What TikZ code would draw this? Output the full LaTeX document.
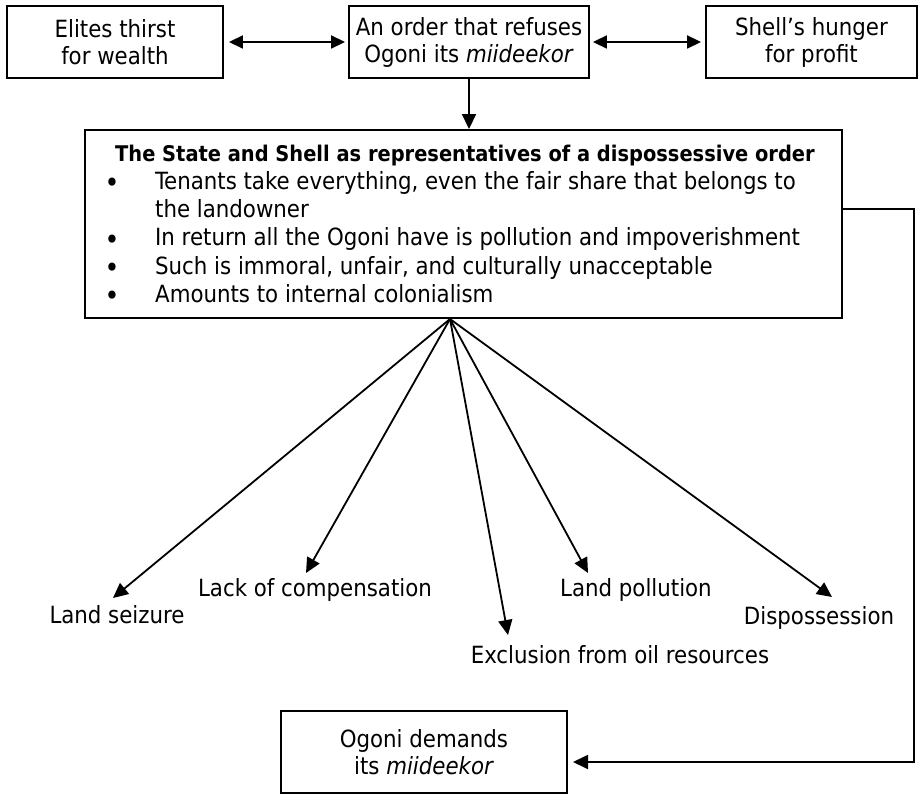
\documentclass[tikz,border=0pt]{standalone}
\usepackage{fontspec}
\setmainfont{DejaVu Sans Condensed}
\usetikzlibrary{arrows.meta}
\begin{document}
\begin{tikzpicture}[x=1pt,y=-1pt,
  fnt/.style={font=\fontsize{23.7}{27}\selectfont},
  box/.style={draw,line width=1.9pt,inner sep=0pt,align=center,fnt},
  txt/.style={inner sep=0pt,anchor=base west,fnt},
  bul/.style={inner sep=0pt,anchor=base,font=\fontsize{28}{28}\selectfont},
  lbl/.style={inner sep=0pt,anchor=base,fnt},
  arr/.style={line width=1.8pt,-{Triangle[length=15pt,width=14pt]}},
  darr/.style={line width=1.8pt,{Triangle[length=14pt,width=13pt]}-{Triangle[length=14pt,width=13pt]}}]
\useasboundingbox (0,0) rectangle (920,794);
\fill[white] (0,0) rectangle (920,794);
% top boxes
\node[box,minimum width=216pt,minimum height=72pt] (elites) at (115,42) {Elites thirst\\for wealth};
\node[box,minimum width=240pt,minimum height=72pt] (order) at (469,42) {An order that refuses\\Ogoni its \textit{miideekor}};
\node[box,minimum width=211pt,minimum height=72pt] (shell) at (811.5,42) {Shell’s hunger\\for profit};
\draw[darr,shorten <=5pt,shorten >=3pt] (elites.east) -- (order.west);
\draw[darr,shorten <=3pt,shorten >=4pt] (order.east) -- (shell.west);
% main box
\node[draw,line width=1.9pt,inner sep=0pt,minimum width=757pt,minimum height=188pt] (main) at (463.5,224) {};
\draw[arr] (order.south) -- (order.south |- main.north);
\node[txt,font=\fontsize{21.6}{27}\selectfont\bfseries] (title) at (115,162) {The State and Shell as representatives of a dispossessive order};
\node[bul] (b1) at (112,193) {\textbullet};
\node[txt] (t1) at (155,190) {Tenants take everything, even the fair share that belongs to};
\node[txt] (t1b) at (155,218) {the landowner};
\node[bul] (b2) at (112,249) {\textbullet};
\node[txt] (t2) at (155,246) {In return all the Ogoni have is pollution and impoverishment};
\node[bul] (b3) at (112,277) {\textbullet};
\node[txt] (t3) at (155,274) {Such is immoral, unfair, and culturally unacceptable};
\node[bul] (b4) at (112,305) {\textbullet};
\node[txt] (t4) at (155,302) {Amounts to internal colonialism};
% fan
\coordinate (fan) at (450,319);
\node[lbl] (seize) at (117,623) {Land seizure};
\node[lbl] (comp) at (315,596) {Lack of compensation};
\node[lbl] (excl) at (620,663) {Exclusion from oil resources};
\node[lbl] (poll) at (636,596) {Land pollution};
\node[lbl] (disp) at (819,624) {Dispossession};
\coordinate (tseize) at (113,598);
\coordinate (tcomp) at (306,573);
\coordinate (texcl) at (508,635);
\coordinate (tpoll) at (588,573);
\coordinate (tdisp) at (832,597);
\foreach \t in {tseize,tcomp,texcl,tpoll,tdisp} \draw[arr] (fan) -- (\t);
% bottom box
\node[box,minimum width=286pt,minimum height=82pt] (demand) at (424,752) {Ogoni demands\\its \textit{miideekor}};
\coordinate (corner1) at (914,209);
\coordinate (corner2) at (914,762);
\coordinate (tdem) at (573,762);
\draw[arr] (main.east |- corner1) -- (corner1) -- (corner2) -- (tdem);
\end{tikzpicture}
\end{document}
